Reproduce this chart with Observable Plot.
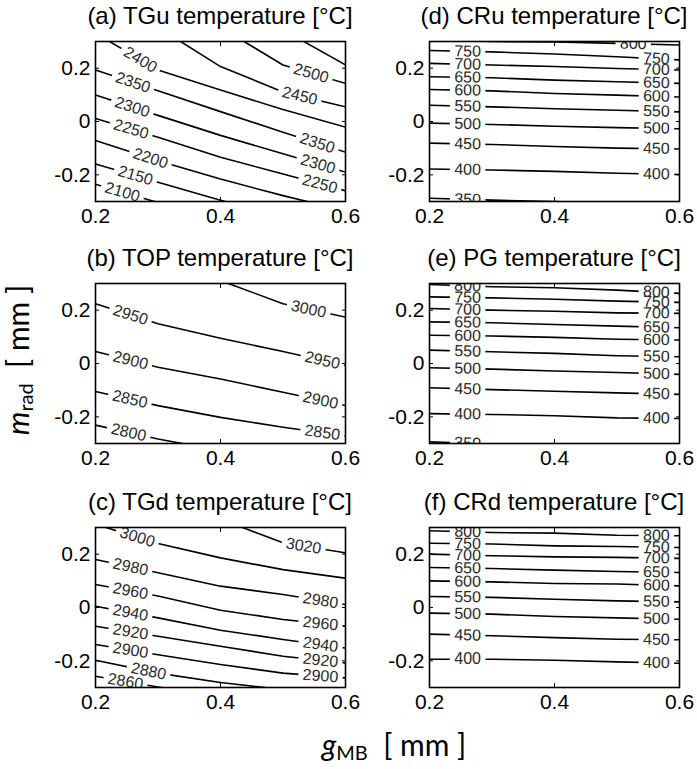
<!DOCTYPE html>
<html><head><meta charset="utf-8">
<script src="https://cdn.jsdelivr.net/npm/d3@7"></script>
<script src="https://cdn.jsdelivr.net/npm/@observablehq/plot@0.6"></script>
<style>
html,body{margin:0;padding:0;background:#fff;overflow:hidden;}
#fig{position:relative;width:697px;height:769px;font-family:"Liberation Sans",Arial,sans-serif;color:#000;}
.title{position:absolute;font-size:24px;line-height:30px;height:30px;white-space:nowrap;transform:translateX(-50%);}
.panel{position:absolute;}
.axlab{position:absolute;font-family:Lato,"Liberation Sans",sans-serif;font-size:30px;white-space:nowrap;line-height:36px;}
.axlab sub{font-size:20px;vertical-align:-4px;}
</style></head><body><div id="fig"></div>
<script>
// x grid (g_MB, mm) at which each contour's m_rad position was read
const gMB = [0.2, 0.3, 0.4, 0.5, 0.6];
const gTicks = [0.2, 0.4, 0.6];
const mTicks = [-0.2, 0, 0.2];

// (a) TGu temperature
const aLevels = [2100, 2150, 2200, 2250, 2300, 2350, 2400, 2450, 2500, 2550];
const aMrad = [
  [-0.235, -0.304, -0.367, -0.430, -0.492],
  [-0.159, -0.228, -0.295, -0.360, -0.423],
  [-0.071, -0.147, -0.216, -0.278, -0.335],
  [0.011, -0.059, -0.134, -0.197, -0.260],
  [0.099, 0.023, -0.052, -0.121, -0.190],
  [0.193, 0.115, 0.037, -0.040, -0.115],
  [0.331, 0.193, 0.118, 0.045, -0.021],
  [0.470, 0.353, 0.206, 0.111, 0.055],
  [0.658, 0.508, 0.353, 0.212, 0.143],
  [0.850, 0.700, 0.550, 0.344, 0.212]
];
const aLabels = [[2400,0.272],[2350,0.26],[2300,0.259],[2250,0.257],[2200,0.288],[2150,0.264],[2100,0.243],
  [2500,0.545],[2450,0.527],[2350,0.555],[2300,0.556],[2250,0.559]];

// (b) TOP temperature
const bLevels = [2800, 2850, 2900, 2950, 3000];
const bMrad = [
  [-0.231, -0.283, -0.327, -0.371, -0.409],
  [-0.105, -0.158, -0.202, -0.239, -0.271],
  [0.045, -0.014, -0.058, -0.108, -0.158],
  [0.224, 0.149, 0.095, 0.045, -0.008],
  [0.520, 0.419, 0.311, 0.224, 0.174]
];
const bLabels = [[2950,0.256],[2900,0.256],[2850,0.255],[2800,0.253],
  [3000,0.541],[2950,0.563],[2900,0.56],[2850,0.563]];

// (c) TGd temperature
const cLevels = [2860, 2880, 2900, 2920, 2940, 2960, 2980, 3000, 3020];
const cMrad = [
  [-0.258, -0.298, -0.340, -0.380, -0.420],
  [-0.198, -0.246, -0.281, -0.308, -0.333],
  [-0.139, -0.177, -0.214, -0.246, -0.264],
  [-0.070, -0.108, -0.145, -0.183, -0.208],
  [0.005, -0.039, -0.085, -0.120, -0.152],
  [0.086, 0.043, -0.010, -0.045, -0.070],
  [0.180, 0.130, 0.080, 0.049, 0.011],
  [0.312, 0.240, 0.186, 0.142, 0.110],
  [0.520, 0.430, 0.331, 0.243, 0.205]
];
const cLabels = [[3000,0.267],[2980,0.256],[2960,0.256],[2940,0.256],[2920,0.256],[2900,0.256],[2880,0.285],[2860,0.248],
  [3020,0.533],[2980,0.56],[2960,0.56],[2940,0.56],[2920,0.56],[2900,0.56]];

// (d) CRu temperature
const dLevels = [350, 400, 450, 500, 550, 600, 650, 700, 750, 800];
const dMrad = [
  [-0.288, -0.295, -0.300, -0.310, -0.320],
  [-0.178, -0.182, -0.187, -0.194, -0.199],
  [-0.081, -0.086, -0.094, -0.100, -0.103],
  [-0.006, -0.011, -0.018, -0.023, -0.027],
  [0.061, 0.055, 0.048, 0.042, 0.036],
  [0.120, 0.115, 0.105, 0.099, 0.092],
  [0.168, 0.164, 0.155, 0.149, 0.143],
  [0.218, 0.212, 0.206, 0.199, 0.193],
  [0.266, 0.261, 0.253, 0.243, 0.231],
  [0.305, 0.300, 0.298, 0.293, 0.287]
];
const dLabels = [[350,0.261],[400,0.261],[450,0.261],[500,0.261],[550,0.261],[600,0.261],[650,0.261],[700,0.261],[750,0.261],
  [400,0.563],[450,0.563],[500,0.563],[550,0.563],[600,0.563],[650,0.563],[700,0.563],[750,0.563],[800,0.526]];

// (e) PG temperature
const eLevels = [350, 400, 450, 500, 550, 600, 650, 700, 750, 800];
const eMrad = [
  [-0.294, -0.302, -0.310, -0.318, -0.325],
  [-0.188, -0.191, -0.196, -0.204, -0.206],
  [-0.091, -0.098, -0.104, -0.110, -0.116],
  [-0.016, -0.021, -0.028, -0.034, -0.041],
  [0.050, 0.044, 0.038, 0.029, 0.025],
  [0.106, 0.103, 0.098, 0.091, 0.088],
  [0.156, 0.153, 0.146, 0.140, 0.134],
  [0.206, 0.200, 0.196, 0.190, 0.188],
  [0.250, 0.246, 0.241, 0.234, 0.229],
  [0.296, 0.288, 0.284, 0.275, 0.263]
];
const eLabels = [[350,0.261],[400,0.261],[450,0.261],[500,0.261],[550,0.261],[600,0.261],[650,0.261],[700,0.261],[750,0.261],[800,0.261],
  [400,0.563],[450,0.563],[500,0.563],[550,0.563],[600,0.563],[650,0.563],[700,0.563],[750,0.563],[800,0.563]];

// (f) CRd temperature
const fLevels = [400, 450, 500, 550, 600, 650, 700, 750, 800];
const fMrad = [
  [-0.194, -0.194, -0.198, -0.204, -0.209],
  [-0.100, -0.106, -0.113, -0.119, -0.121],
  [-0.021, -0.025, -0.034, -0.039, -0.044],
  [0.041, 0.038, 0.031, 0.025, 0.021],
  [0.100, 0.096, 0.090, 0.088, 0.081],
  [0.150, 0.146, 0.140, 0.135, 0.131],
  [0.200, 0.194, 0.190, 0.188, 0.184],
  [0.241, 0.238, 0.231, 0.229, 0.225],
  [0.288, 0.281, 0.279, 0.271, 0.269]
];
const fLabels = [[400,0.261],[450,0.261],[500,0.261],[550,0.261],[600,0.261],[650,0.261],[700,0.261],[750,0.261],[800,0.261],
  [400,0.563],[450,0.563],[500,0.563],[550,0.563],[600,0.563],[650,0.563],[700,0.563],[750,0.563],[800,0.563]];

const titles = ["(a) TGu temperature [°C]", "(b) TOP temperature [°C]", "(c) TGd temperature [°C]",
                "(d) CRu temperature [°C]", "(e) PG temperature [°C]", "(f) CRd temperature [°C]"];

function interp(ys, x) {
  let j = 0;
  while (j < gMB.length - 2 && x > gMB[j + 1]) j++;
  const t = (x - gMB[j]) / (gMB[j + 1] - gMB[j]);
  return ys[j] + t * (ys[j + 1] - ys[j]);
}

const fig = document.getElementById("fig");
const W = 250, H = 160, ML = 95, MT = 4, MB = 36;

function panel(title, levels, rows, labels, frameLeft, frameTop, mr, FS) {
  const lineData = [];
  levels.forEach((lv, i) => rows[i].forEach((y, j) => lineData.push({level: lv, x: gMB[j], y})));
  const kx = W / 0.4, ky = H / 0.6;
  const lab = labels.map(([lv, xc], k) => {
    const ys = rows[levels.indexOf(lv)];
    const y = interp(ys, xc);
    const d = 0.01;
    const s = (interp(ys, xc + d) - interp(ys, xc - d)) / (2 * d);
    const ang = Math.atan(-s * ky / kx) * 180 / Math.PI;
    const tw = String(lv).length * 0.556 * FS;
    const hx = (tw / 2 + 2) * Math.cos(ang * Math.PI / 180) / kx;
    return {k, t: String(lv), x: xc, y, ang, hx, ys};
  });
  const mask = [];
  lab.forEach(l => {
    const pts = [l.x - l.hx, ...gMB.filter(g => g > l.x - l.hx && g < l.x + l.hx), l.x + l.hx];
    pts.forEach(px => mask.push({k: l.k, x: px, y: interp(l.ys, px)}));
  });
  const svg = Plot.plot({
    width: ML + W + mr, height: MT + H + MB,
    marginLeft: ML, marginRight: mr, marginTop: MT, marginBottom: MB,
    style: {fontFamily: "'Liberation Sans', Arial, sans-serif", fontSize: "21px", background: "transparent", overflow: "visible", color: "black"},
    x: {domain: [0.2, 0.6]},
    y: {domain: [-0.3, 0.3]},
    marks: [
      Plot.line(lineData, {x: "x", y: "y", z: "level", stroke: "black", strokeWidth: 1.6, clip: true}),
      Plot.line(mask, {x: "x", y: "y", z: "k", stroke: "white", strokeWidth: 5, clip: true}),
      Plot.text(lab, {x: "x", y: "y", text: "t", rotate: "ang", fontSize: FS, fill: "#2a2a2a", clip: true}),
      Plot.frame({stroke: "black", strokeWidth: 1.6}),
      Plot.axisX(gTicks, {anchor: "bottom", tickSize: -4, fill: "none", label: null}),
      Plot.axisX(gTicks, {anchor: "top", tickSize: -4, fill: "none", label: null}),
      Plot.axisY(mTicks, {anchor: "left", tickSize: -4, fill: "none", label: null}),
      Plot.axisY(mTicks, {anchor: "right", tickSize: -4, fill: "none", label: null}),
      Plot.axisX(gTicks, {anchor: "bottom", tickSize: 0, tickPadding: 7, tickFormat: d => String(d), label: null}),
      Plot.axisY(mTicks, {anchor: "left", tickSize: 0, tickPadding: 5, tickFormat: d => String(d), label: null})
    ]
  });
  const wrap = document.createElement("div");
  wrap.className = "panel";
  wrap.style.left = (frameLeft - ML) + "px";
  wrap.style.top = (frameTop - MT) + "px";
  wrap.appendChild(svg);
  fig.appendChild(wrap);
  const t = document.createElement("div");
  t.className = "title";
  t.textContent = title;
  t.style.left = (frameLeft + W / 2) + "px";
  t.style.top = (frameTop - 40) + "px";
  fig.appendChild(t);
}

panel(titles[0], aLevels, aMrad, aLabels, 95, 41, 20, 16);
panel(titles[1], bLevels, bMrad, bLabels, 95, 283, 20, 16);
panel(titles[2], cLevels, cMrad, cLabels, 95, 527, 20, 16);
panel(titles[3], dLevels, dMrad, dLabels, 429, 41, 16, 16);
panel(titles[4], eLevels, eMrad, eLabels, 429, 283, 16, 16);
panel(titles[5], fLevels, fMrad, fLabels, 429, 527, 16, 16);

const yl = document.createElement("div");
yl.className = "axlab";
yl.innerHTML = "<i>m</i><sub>rad</sub>&nbsp;&nbsp;[ mm ]";
yl.style.left = "21px"; yl.style.top = "360px";
yl.style.transform = "translate(-50%,-50%) rotate(-90deg)";
fig.appendChild(yl);

const xl = document.createElement("div");
xl.className = "axlab";
xl.innerHTML = "<i>g</i><sub>MB</sub>&nbsp;&nbsp;[ mm ]";
xl.style.left = "394px"; xl.style.top = "748px";
xl.style.transform = "translate(-50%,-50%)";
fig.appendChild(xl);
</script>
</body></html>
